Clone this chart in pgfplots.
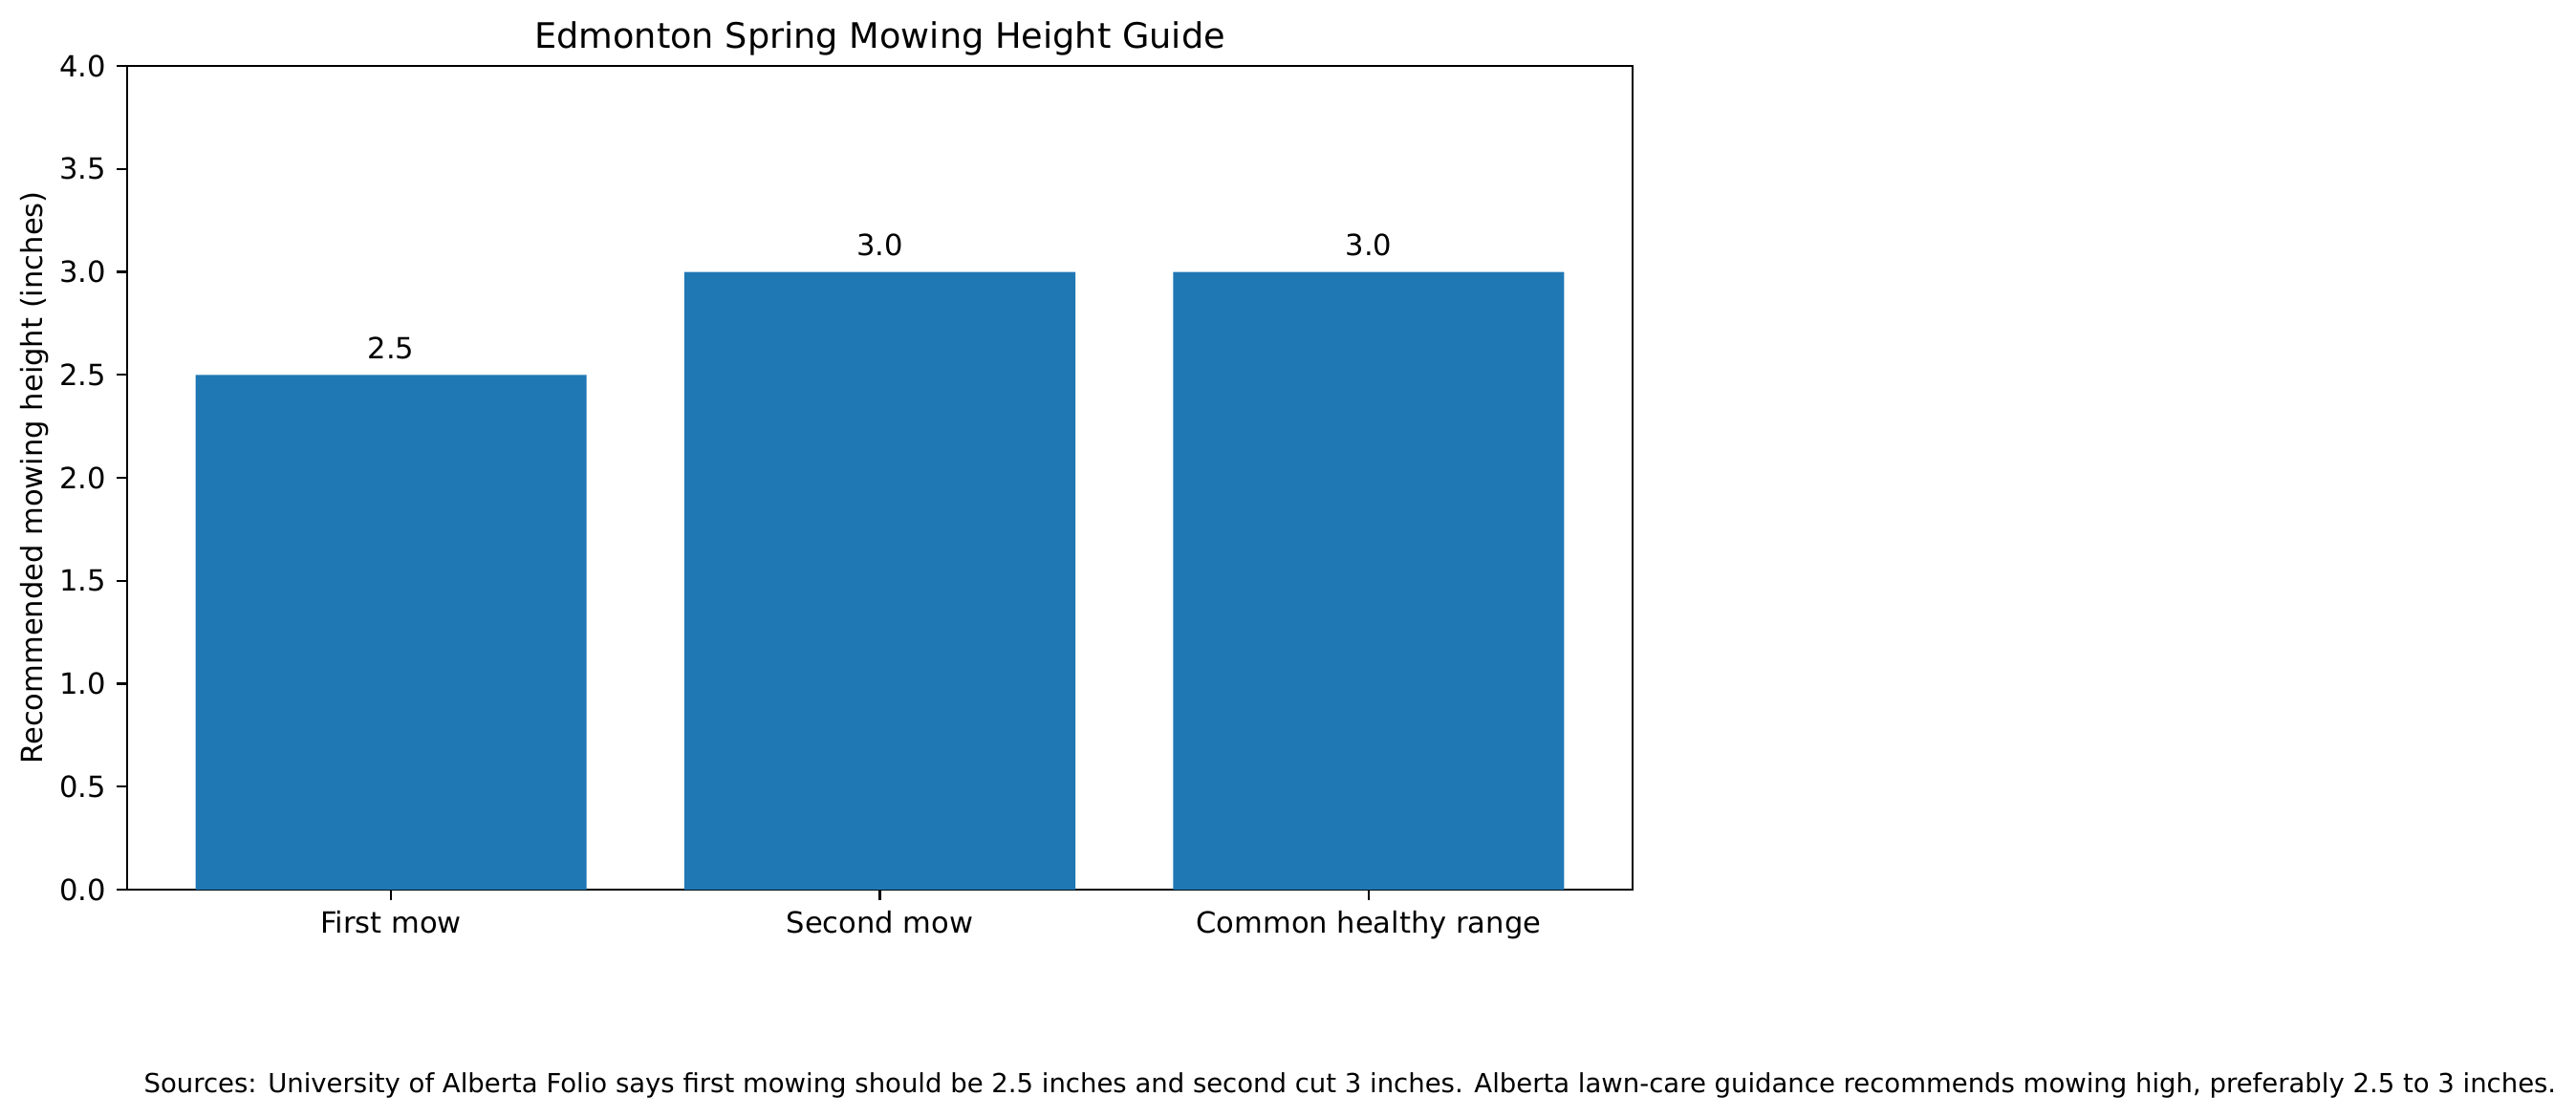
\documentclass[border=0pt]{standalone}
\usepackage{pgfplots}
\pgfplotsset{compat=1.18}
\usepackage{fontspec}
\setmainfont{DejaVu Sans}
\definecolor{tabblue}{HTML}{1F77B4}
\begin{document}
\begin{tikzpicture}
\useasboundingbox (-47.88bp,-86.04bp) rectangle (922.32bp,335.16bp);
\begin{axis}[
  at={(0,0)}, anchor=south west,
  scale only axis,
  width=567bp, height=310.32bp,
  xmin=-0.54, xmax=2.54,
  ymin=0, ymax=4,
  xtick={0,1,2},
  xticklabels={First mow, Second mow, Common healthy range},
  ytick={0,0.5,...,4},
  yticklabel style={/pgf/number format/fixed, /pgf/number format/fixed zerofill, /pgf/number format/precision=1},
  /pgf/number format/assume math mode=true,
  tick align=outside,
  xtick pos=bottom, ytick pos=left,
  major tick length=3.85bp,
  every tick/.style={black, line width=0.8bp},
  axis line style={line width=0.8bp},
  tick label style={font=\fontsize{11bp}{13bp}\selectfont},
  xticklabel style={anchor=north, inner sep=0pt, yshift=-3.95bp},
  yticklabel style={anchor=east, inner sep=0pt, xshift=-3.9bp},
  title={Edmonton Spring Mowing Height Guide},
  title style={at={(axis description cs:0.5,1)}, anchor=base, inner sep=0pt, yshift=0.6bp, font=\fontsize{13.2bp}{15bp}\selectfont},
  ylabel={Recommended mowing height (inches)},
  ylabel style={at={(axis description cs:-0.0614,0.5)}, anchor=center, inner sep=0pt, font=\fontsize{11bp}{13bp}\selectfont},
  clip=false,
  nodes near coords={\pgfmathprintnumber[fixed,fixed zerofill,precision=1]{\pgfplotspointmeta}},
  nodes near coords style={anchor=south, inner sep=0pt, yshift=5.6bp, font=\fontsize{11bp}{13bp}\selectfont, black},
]
\addplot[ybar, bar width=0.8, fill=tabblue, draw=none] coordinates {(0,2.5) (1,3.0) (2,3.0)};
\node[anchor=west, inner sep=0pt, font=\fontsize{9.9bp}{12bp}\selectfont] at (rel axis cs:0.0108,-0.2382) {Sources: University of Alberta Folio says first mowing should be 2.5 inches and second cut 3 inches. Alberta lawn-care guidance recommends mowing high, preferably 2.5 to 3 inches.};
\end{axis}
\end{tikzpicture}
\end{document}
